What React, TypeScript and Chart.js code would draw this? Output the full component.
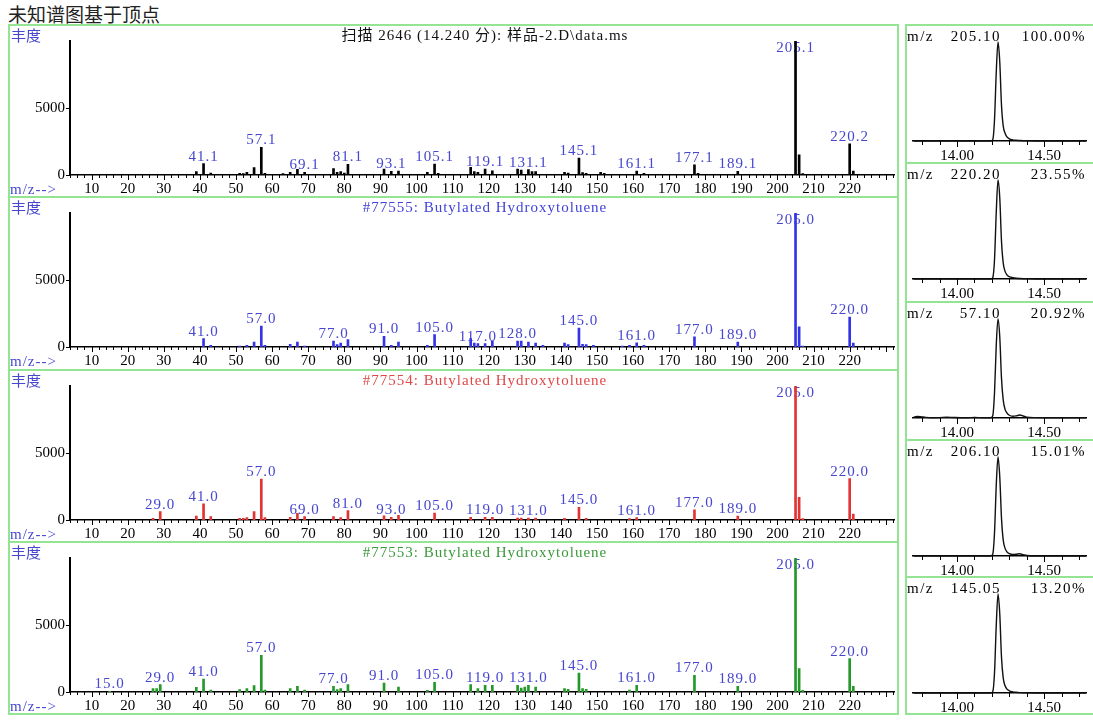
import React, { useEffect, useRef } from 'react';
import { Chart, registerables } from 'chart.js';
Chart.register(...registerables);

// ---------------- DATA ----------------
const pageTitle = '未知谱图基于顶点';
const abundanceLabel = '丰度';
const mzAxisLabel = 'm/z-->';
const spectrumHeaders = [
  '扫描 2646 (14.240 分): 样品-2.D\\data.ms',
  '#77555: Butylated Hydroxytoluene',
  '#77554: Butylated Hydroxytoluene',
  '#77553: Butylated Hydroxytoluene',
];

// sample spectrum (scan 2646)
const sampleMz = [39, 41, 43, 51, 52, 53, 55, 57, 58, 63, 65, 67, 69, 77, 78, 79, 80, 81, 91, 93, 95, 103, 105, 106, 115, 116, 117, 119, 121, 128, 129, 131, 132, 133, 141, 142, 145, 146, 147, 151, 152, 161, 163, 177, 178, 189, 205, 206, 207, 220, 221];
const sampleAbund = [250, 845, 150, 125, 100, 200, 550, 2065, 125, 100, 200, 420, 200, 470, 200, 250, 150, 800, 450, 280, 300, 200, 820, 125, 570, 250, 200, 450, 320, 450, 370, 400, 250, 250, 200, 150, 1270, 175, 125, 200, 125, 300, 125, 750, 125, 275, 9990, 1500, 100, 2320, 300];
const sampleLabels = ['41.1', '57.1', '69.1', '81.1', '93.1', '105.1', '119.1', '131.1', '145.1', '161.1', '177.1', '189.1', '205.1', '220.2'];

// library hit #77555
const lib1Mz = [41, 43, 51, 53, 55, 57, 58, 65, 67, 69, 77, 78, 79, 81, 91, 93, 95, 103, 105, 115, 116, 117, 119, 121, 128, 129, 131, 133, 135, 141, 142, 145, 146, 147, 149, 157, 159, 161, 163, 177, 189, 205, 206, 207, 220, 221];
const lib1Abund = [620, 125, 75, 125, 370, 1570, 125, 200, 370, 75, 450, 175, 300, 550, 800, 125, 370, 125, 920, 620, 300, 250, 250, 450, 450, 450, 370, 300, 125, 300, 175, 1420, 200, 175, 125, 75, 125, 320, 125, 750, 370, 9990, 1500, 75, 2240, 300];
const lib1Labels = ['41.0', '57.0', '77.0', '91.0', '105.0', '117.0', '128.0', '145.0', '161.0', '177.0', '189.0', '205.0', '220.0'];

// library hit #77554
const lib2Mz = [27, 29, 39, 41, 43, 51, 52, 53, 55, 57, 58, 65, 67, 69, 77, 79, 81, 91, 93, 95, 105, 115, 119, 121, 128, 129, 131, 133, 141, 145, 147, 159, 161, 177, 189, 205, 206, 207, 220, 221];
const lib2Abund = [125, 620, 300, 1200, 250, 125, 125, 175, 620, 3060, 175, 200, 500, 250, 250, 175, 700, 320, 200, 350, 520, 200, 200, 200, 150, 150, 150, 150, 125, 950, 125, 100, 175, 750, 300, 9990, 1700, 100, 3090, 450];
const lib2Labels = ['29.0', '41.0', '57.0', '69.0', '81.0', '93.0', '105.0', '119.0', '131.0', '145.0', '161.0', '177.0', '189.0', '205.0', '220.0'];

// library hit #77553
const lib3Mz = [15, 27, 28, 29, 39, 41, 43, 51, 53, 55, 57, 58, 65, 67, 69, 77, 78, 79, 81, 91, 95, 103, 105, 115, 117, 119, 121, 128, 129, 130, 131, 133, 141, 142, 145, 146, 147, 159, 161, 177, 189, 205, 206, 207, 220, 221];
const lib3Abund = [50, 250, 250, 550, 350, 970, 150, 175, 250, 470, 2740, 150, 250, 420, 150, 420, 175, 250, 550, 670, 370, 125, 720, 550, 250, 500, 500, 500, 300, 370, 500, 370, 250, 200, 1420, 250, 200, 150, 500, 1240, 420, 9990, 1740, 125, 2490, 420];
const lib3Labels = ['15.0', '29.0', '41.0', '57.0', '77.0', '91.0', '105.0', '119.0', '131.0', '145.0', '161.0', '177.0', '189.0', '205.0', '220.0'];

const mzTickLabels = [10, 20, 30, 40, 50, 60, 70, 80, 90, 100, 110, 120, 130, 140, 150, 160, 170, 180, 190, 200, 210, 220];
const abundTicks = [0, 5000];
const rtTickLabels = [14.0, 14.5];

// extracted ion chromatograms (% of own max)
const chromTimes = [13.75, 13.77, 13.79, 13.82, 13.86, 13.90, 13.94, 13.98, 14.02, 14.06, 14.10, 14.14, 14.195, 14.205, 14.215, 14.225, 14.235, 14.245, 14.255, 14.265, 14.275, 14.285, 14.30, 14.32, 14.34, 14.36, 14.38, 14.40, 14.45, 14.50, 14.55, 14.60, 14.65, 14.70, 14.74];
const chrom205 = [0, 0, 0, 0, 0, 0, 0, 0, 0, 0, 0, 0, 0, 1.5, 22, 70, 100, 80, 36, 15, 8, 4.5, 2.2, 1.2, 0.8, 0.5, 0.3, 0.2, 0, 0, 0, 0, 0, 0, 0];
const chrom220 = [0, 0, 0, 0, 0, 0, 0, 0, 0, 0, 0, 0, 0, 1.5, 20, 68, 100, 82, 38, 16, 8, 4.5, 2.4, 1.4, 0.8, 0.5, 0.3, 0.2, 0, 0, 0, 0, 0, 0, 0];
const chrom57 = [0.6, 1.6, 1.4, 0.6, 0.3, 0.4, 0.8, 0.5, 0.3, 0.3, 0.5, 0.3, 0.2, 2.5, 26, 74, 100, 82, 40, 18, 9, 5.5, 2.8, 1.8, 2.2, 3.0, 2.0, 0.8, 0.4, 0.3, 0.3, 0.2, 0.2, 0.2, 0.2];
const chrom206 = [0, 0, 0, 0, 0, 0, 0, 0, 0, 0, 0, 0, 0, 2, 24, 72, 100, 80, 38, 16, 8, 4.5, 2.4, 1.6, 1.8, 2.2, 1.4, 0.5, 0, 0, 0, 0, 0, 0, 0];
const chrom145 = [0, 0, 0, 0, 0, 0, 0, 0, 0, 0, 0, 0, 0, 1.5, 21, 69, 100, 80, 36, 15, 7.5, 4.2, 2.2, 1.2, 0.7, 0.4, 0.2, 0.1, 0, 0, 0, 0, 0, 0, 0];
const chromMasses = ['205.10', '220.20', '57.10', '206.10', '145.05'];
const chromPercents = ['100.00%', '23.55%', '20.92%', '15.01%', '13.20%'];

// ---------------- STYLE ----------------
const SERIF = '"Liberation Serif", "Noto Sans CJK SC", serif';
const CJK = '"Noto Sans CJK SC", sans-serif';
const FRAME = '#93e493';
const LABEL_BLUE = '#4646d0';
const LEFT_TOPS = [25, 197, 370, 542];
const RIGHT_TOPS = [25, 163, 302, 440, 577];

const spectra = [
  { mz: sampleMz, ab: sampleAbund, labels: sampleLabels, color: '#000000', header: '#111111' },
  { mz: lib1Mz, ab: lib1Abund, labels: lib1Labels, color: '#3434e6', header: '#4242d8' },
  { mz: lib2Mz, ab: lib2Abund, labels: lib2Labels, color: '#e23434', header: '#e04848' },
  { mz: lib3Mz, ab: lib3Abund, labels: lib3Labels, color: '#24982a', header: '#3a9a3a' },
];
const chroms = [chrom205, chrom220, chrom57, chrom206, chrom145];

function SpectrumChart({ spec, top }: any) {
  const ref = useRef<HTMLCanvasElement>(null);
  useEffect(() => {
    const peakPlugin = {
      id: 'peakLabels',
      beforeDatasetsDraw(chart: any) {
        const { ctx, chartArea, scales } = chart;
        ctx.save();
        ctx.font = '15px "Liberation Serif"';
        try { (ctx as any).letterSpacing = '1px'; } catch (e) {}
        ctx.fillStyle = LABEL_BLUE;
        ctx.textAlign = 'center';
        ctx.textBaseline = 'alphabetic';
        spec.labels.forEach((lbl: string) => {
          const m = Math.round(parseFloat(lbl));
          const i = spec.mz.indexOf(m);
          if (i < 0) return;
          const x = scales.x.getPixelForValue(m);
          const y = Math.max(scales.y.getPixelForValue(spec.ab[i]) - 3, chartArea.top + 11);
          ctx.fillText(lbl, x, y);
        });
        ctx.restore();
      },
    };
    const tickPlugin = {
      id: 'axisTicks',
      afterDraw(chart: any) {
        const { ctx, chartArea, scales } = chart;
        ctx.save();
        ctx.strokeStyle = '#000';
        ctx.lineWidth = 1;
        scales.x.ticks.forEach((t: any) => {
          const x = Math.round(scales.x.getPixelForValue(t.value)) + 0.5;
          const len = t.major ? 5 : 3;
          ctx.beginPath();
          ctx.moveTo(x, chartArea.bottom);
          ctx.lineTo(x, chartArea.bottom + len);
          ctx.stroke();
        });
        scales.y.ticks.forEach((t: any) => {
          const y = Math.round(scales.y.getPixelForValue(t.value)) + 0.5;
          ctx.beginPath();
          ctx.moveTo(chartArea.left - 4, y);
          ctx.lineTo(chartArea.left, y);
          ctx.stroke();
        });
        ctx.restore();
      },
    };
    const chart = new Chart(ref.current as HTMLCanvasElement, {
      type: 'bar',
      data: {
        datasets: [{
          data: spec.mz.map((m: number, i: number) => ({ x: m, y: spec.ab[i] })),
          backgroundColor: spec.color,
          barThickness: 2,
        } as any],
      },
      options: {
        animation: false,
        responsive: false,
        events: [],
        layout: { padding: { left: 0, right: 2, top: 16, bottom: 0 } },
        plugins: { legend: { display: false }, tooltip: { enabled: false } },
        scales: {
          x: {
            type: 'linear', min: 4, max: 232.5, offset: false,
            grid: { display: false, drawTicks: false },
            border: { display: true, color: '#000', width: 1.5 },
            afterBuildTicks: (s: any) => {
              const t: any[] = [];
              for (let v = 4; v <= 232; v += 2) t.push({ value: v, major: v % 10 === 0 });
              s.ticks = t;
            },
            afterFit: (s: any) => { s.height = 22; },
            ticks: {
              autoSkip: false, maxRotation: 0, minRotation: 0, padding: 5, color: '#000',
              font: { family: 'Liberation Serif', size: 15 },
              callback: (v: any) => (mzTickLabels.includes(v) ? String(v) : ''),
            },
          },
          y: {
            type: 'linear', min: 0, max: 10000,
            grid: { display: false, drawTicks: false },
            border: { display: true, color: '#000', width: 2 },
            afterBuildTicks: (s: any) => { s.ticks = abundTicks.map((v) => ({ value: v })); },
            afterFit: (s: any) => { s.width = 62; },
            ticks: {
              padding: 5, color: '#000',
              font: { family: 'Liberation Serif', size: 15 },
              callback: (v: any) => String(v),
            },
          },
        },
      } as any,
      plugins: [peakPlugin, tickPlugin],
    });
    return () => chart.destroy();
  }, []);
  return (
    <canvas ref={ref} width={890} height={172}
      style={{ position: 'absolute', left: 8, top, width: 890, height: 172 }} />
  );
}

function ChromChart({ values, top }: any) {
  const ref = useRef<HTMLCanvasElement>(null);
  useEffect(() => {
    const tickPlugin = {
      id: 'rtTicks',
      afterDraw(chart: any) {
        const { ctx, chartArea, scales } = chart;
        ctx.save();
        ctx.strokeStyle = '#000';
        ctx.lineWidth = 1;
        scales.x.ticks.forEach((t: any) => {
          const x = Math.round(scales.x.getPixelForValue(t.value)) + 0.5;
          const len = t.major ? 6 : 4;
          ctx.beginPath();
          ctx.moveTo(x, chartArea.bottom);
          ctx.lineTo(x, chartArea.bottom + len);
          ctx.stroke();
        });
        ctx.restore();
      },
    };
    const chart = new Chart(ref.current as HTMLCanvasElement, {
      type: 'line',
      data: {
        datasets: [{
          data: chromTimes.map((t, i) => ({ x: t, y: values[i] })),
          borderColor: '#111',
          borderWidth: 1.4,
          pointRadius: 0,
          cubicInterpolationMode: 'monotone',
          fill: false,
          clip: 6,
        } as any],
      },
      options: {
        animation: false,
        responsive: false,
        events: [],
        layout: { padding: { left: 8, right: 5, top: 17, bottom: 0 } },
        plugins: { legend: { display: false }, tooltip: { enabled: false } },
        scales: {
          x: {
            type: 'linear', min: 13.747, max: 14.74,
            grid: { display: false, drawTicks: false },
            border: { display: true, color: '#000', width: 1.5 },
            afterBuildTicks: (s: any) => {
              const t: any[] = [];
              for (let k = 138; k <= 147; k++) {
                const v = k / 10;
                t.push({ value: v, major: rtTickLabels.some((r) => Math.abs(r - v) < 1e-6) });
              }
              s.ticks = t;
            },
            afterFit: (s: any) => { s.height = 22; },
            ticks: {
              autoSkip: false, maxRotation: 0, minRotation: 0, padding: 6, color: '#000',
              font: { family: 'Liberation Serif', size: 15 },
              callback: (v: any) => (rtTickLabels.some((r) => Math.abs(r - v) < 1e-6) ? Number(v).toFixed(2) : ''),
            },
          },
          y: { type: 'linear', min: 0, max: 100, display: false },
        },
      } as any,
      plugins: [tickPlugin],
    });
    return () => chart.destroy();
  }, []);
  return (
    <canvas ref={ref} width={186} height={138}
      style={{ position: 'absolute', left: 905, top, width: 186, height: 138 }} />
  );
}

function Txt({ x, y, text, color = '#000', size = 15, family = SERIF, align = 'left', spacing = 0 }: any) {
  const style: any = {
    position: 'absolute', top: y - size * 0.6, lineHeight: `${size * 1.2}px`, fontSize: size,
    fontFamily: family, color, whiteSpace: 'pre', letterSpacing: spacing,
  };
  if (align === 'left') style.left = x;
  else if (align === 'right') style.right = 1093 - x;
  else { style.left = x; style.transform = 'translateX(-50%)'; }
  return <div style={style}>{text}</div>;
}

function Line({ x, y, w, h }: any) {
  return <div style={{ position: 'absolute', left: x, top: y, width: w, height: h, background: FRAME }} />;
}

export default function App() {
  return (
    <div style={{ position: 'fixed', left: 0, top: 0, width: 1093, height: 720, background: '#fff', overflow: 'hidden' }}>
      <Txt x={8} y={14} text={pageTitle} size={19} family={CJK} color="#222" />
      {[25, 197, 370, 542, 714].map((y) => <Line key={'lh' + y} x={8} y={y - 1} w={890} h={2} />)}
      {[25, 163, 302, 440, 577, 714].map((y) => <Line key={'rh' + y} x={905} y={y - 1} w={188} h={2} />)}
      <Line x={8} y={24} w={2} h={691} />
      <Line x={897} y={24} w={2} h={691} />
      <Line x={905} y={24} w={2} h={691} />
      {spectra.map((s, i) => (
        <React.Fragment key={'s' + i}>
          <SpectrumChart spec={s} top={LEFT_TOPS[i]} />
          <Txt x={11} y={LEFT_TOPS[i] + 10} text={abundanceLabel} family={CJK} color={LABEL_BLUE} size={15} />
          <Txt x={10} y={LEFT_TOPS[i] + 164} text={mzAxisLabel} color={LABEL_BLUE} size={15} spacing={1} />
          <Txt x={485} y={LEFT_TOPS[i] + 10} text={spectrumHeaders[i]} color={s.header} size={15} align="center" spacing={1} />
        </React.Fragment>
      ))}
      {chroms.map((c, i) => (
        <React.Fragment key={'c' + i}>
          <ChromChart values={c} top={RIGHT_TOPS[i]} />
          <Txt x={907} y={RIGHT_TOPS[i] + 11} text="m/z" size={15} spacing={1.5} />
          <Txt x={1001} y={RIGHT_TOPS[i] + 11} text={chromMasses[i]} size={15} align="right" spacing={1.5} />
          <Txt x={1086} y={RIGHT_TOPS[i] + 11} text={chromPercents[i]} size={15} align="right" spacing={1.5} />
        </React.Fragment>
      ))}
    </div>
  );
}
